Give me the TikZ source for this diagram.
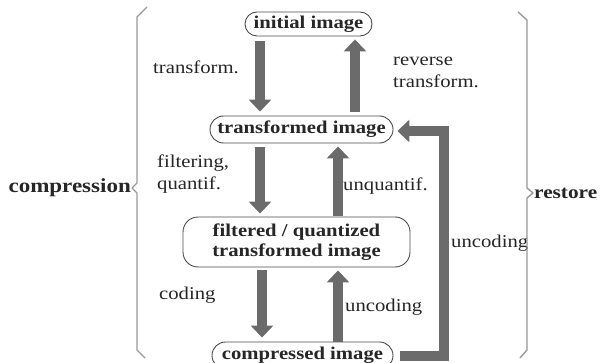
\documentclass[tikz,border=0pt]{standalone}
\usepackage{fontspec}
\setmainfont[FakeStretch=1.15]{Liberation Serif}
\usetikzlibrary{arrows.meta,calc}
\definecolor{arr}{gray}{0.42}
\definecolor{txt}{gray}{0.15}
\definecolor{bord}{gray}{0.3}
\definecolor{brc}{gray}{0.6}
\begin{document}
\begin{tikzpicture}[x=1pt,y=-1pt,
  lbl/.style={font=\fontsize{18}{22}\selectfont, text=txt, inner sep=0pt, align=left},
  side/.style={font=\fontsize{20}{22}\selectfont\bfseries, text=txt, inner sep=0pt},
  stage/.style={draw=bord, line width=0.9pt, font=\fontsize{18}{20}\selectfont\bfseries, text=txt, inner sep=0pt, align=center},
  bigarrow/.style={draw=arr, line width=10pt, -{Triangle[width=22pt,length=12pt]}},
  brace/.style={draw=brc, line width=1.4pt, line join=round}]
\useasboundingbox (0,0) rectangle (601,363);
\fill[white] (0,0) rectangle (601,363);

% nodes
\node[stage, rounded corners=12pt, minimum width=127pt, minimum height=24pt] (init) at (308.5,24) {initial image};
\node[stage, rounded corners=13.5pt, minimum width=183pt, minimum height=27pt] (trans) at (301.5,129.5) {transformed image};
\node[stage, rounded corners=15pt, minimum width=227pt, minimum height=50pt] (filt) at (296.5,242) {filtered / quantized\\transformed image};
\node[stage, rounded corners=13.5pt, minimum width=181pt, minimum height=27pt] (comp) at (302.5,355.5) {compressed image};

% arrow columns
\coordinate (cl) at (260,0);
\coordinate (cl2) at (262,0);
\coordinate (cr) at (355,0);
\coordinate (cm) at (338,0);
\coordinate (ce) at (444,131);

\draw[bigarrow, shorten <=5pt, shorten >=4pt] (init.south -| cl) -- (trans.north -| cl);
\draw[bigarrow, shorten <=4pt, shorten >=3pt] (trans.north -| cr) -- (init.south -| cr);
\draw[bigarrow, shorten <=4pt, shorten >=3pt] (trans.south -| cl) -- (filt.north -| cl);
\draw[bigarrow, shorten <=1pt, shorten >=3pt] (filt.north -| cm) -- (trans.south -| cm);
\draw[bigarrow, shorten <=3pt, shorten >=4pt] (filt.south -| cl2) -- (comp.north -| cl2);
\draw[bigarrow, shorten <=0pt, shorten >=3pt] (comp.north -| cm) -- (filt.south -| cm);
\draw[bigarrow, line join=miter, shorten <=7pt, shorten >=4pt] (comp.east) -| (ce) -- ([yshift=-1.5pt]trans.east);

% labels
\node[lbl, anchor=west] (l1) at (153,67) {transform.};
\node[lbl, anchor=west] (l2) at (393,72) {reverse\\transform.};
\node[lbl, anchor=west] (l3) at (157,174) {filtering,\\quantif.};
\node[lbl, anchor=west] (l4) at (343,186) {unquantif.};
\node[lbl, anchor=west] (l5) at (451,243) {uncoding};
\node[lbl, anchor=west] (l6) at (345,307) {uncoding};
\node[lbl, anchor=west] (l7) at (159,295) {coding};

% braces
\coordinate (ltip) at (132,188);
\coordinate (rtip) at (533,193);
\draw[brace] (147,7) -- (137,17) -- (137,183) -- (ltip) -- (137,193) -- (137,350) -- (145,358);
\draw[brace] (518,12) -- (527,20) -- (527,188) -- (rtip) -- (527,198) -- (527,350) -- (520,358);
\node[side, anchor=east] (cmp) at ([xshift=-1pt]ltip) {compression};
\node[side, anchor=west, font=\fontsize{18.5}{22}\selectfont\bfseries] (rst) at ([xshift=1pt]rtip) {restore};
\end{tikzpicture}
\end{document}
